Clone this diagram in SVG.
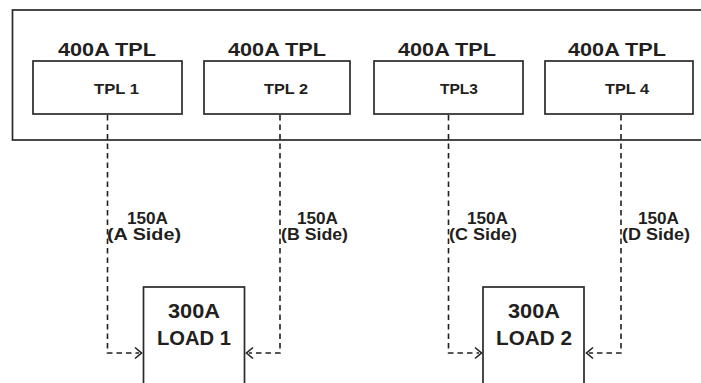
<svg xmlns="http://www.w3.org/2000/svg" width="701" height="383" viewBox="0 0 701 383">
<defs>
<style>
.box{fill:#fff;stroke:#2a2a2a;stroke-width:1.7}
.t{font-family:"Liberation Sans",Arial,sans-serif;font-weight:bold;fill:#231f20}
.dash{fill:none;stroke:#231f20;stroke-width:1.6;stroke-dasharray:5.5 4}
.arr{fill:none;stroke:#231f20;stroke-width:1.6}
</style>
</defs>
<rect width="701" height="383" fill="#fff"/>
<g id="panel">
<rect x="12.5" y="10" width="700" height="130" class="box"/>
</g>
<g id="tpl1">
<text class="t" x="58" y="56" font-size="19" textLength="98" lengthAdjust="spacingAndGlyphs">400A TPL</text>
<rect x="33" y="61" width="149" height="53" class="box"/>
<text class="t" x="94" y="94" font-size="14.5" textLength="45" lengthAdjust="spacingAndGlyphs">TPL 1</text>
</g>
<g id="tpl2">
<text class="t" x="228" y="56" font-size="19" textLength="98" lengthAdjust="spacingAndGlyphs">400A TPL</text>
<rect x="204" y="61" width="146" height="53" class="box"/>
<text class="t" x="264" y="94" font-size="14.5" textLength="44" lengthAdjust="spacingAndGlyphs">TPL 2</text>
</g>
<g id="tpl3">
<text class="t" x="398" y="56" font-size="19" textLength="98" lengthAdjust="spacingAndGlyphs">400A TPL</text>
<rect x="374" y="61" width="149" height="53" class="box"/>
<text class="t" x="440" y="94" font-size="14.5" textLength="38" lengthAdjust="spacingAndGlyphs">TPL3</text>
</g>
<g id="tpl4">
<text class="t" x="568" y="56" font-size="19" textLength="98" lengthAdjust="spacingAndGlyphs">400A TPL</text>
<rect x="545" y="61" width="148" height="53" class="box"/>
<text class="t" x="605" y="94" font-size="14.5" textLength="44" lengthAdjust="spacingAndGlyphs">TPL 4</text>
</g>
<g id="load1">
<rect x="143.5" y="287" width="101" height="110" class="box"/>
<text class="t" x="168" y="318" font-size="21" textLength="52" lengthAdjust="spacingAndGlyphs">300A</text>
<text class="t" x="157" y="345" font-size="21" textLength="74" lengthAdjust="spacingAndGlyphs">LOAD 1</text>
</g>
<g id="load2">
<rect x="483" y="287" width="101" height="110" class="box"/>
<text class="t" x="508" y="318" font-size="21" textLength="52" lengthAdjust="spacingAndGlyphs">300A</text>
<text class="t" x="496" y="345" font-size="21" textLength="76" lengthAdjust="spacingAndGlyphs">LOAD 2</text>
</g>
<g id="connectors">
<polyline class="dash" points="107.5,115 107.5,353 139,353"/>
<polyline class="arr" points="135,347.5 141.5,353 135,358.5"/>
<polyline class="dash" points="280,115 280,353 249,353"/>
<polyline class="arr" points="253,347.5 246.5,353 253,358.5"/>
<polyline class="dash" points="448.5,115 448.5,353 479,353"/>
<polyline class="arr" points="475,347.5 481.5,353 475,358.5"/>
<polyline class="dash" points="621,115 621,353 589,353"/>
<polyline class="arr" points="593,347.5 586.5,353 593,358.5"/>
</g>
<g id="labels">
<text class="t" x="127" y="224" font-size="16" textLength="41" lengthAdjust="spacingAndGlyphs">150A</text>
<text class="t" x="107" y="240" font-size="16" textLength="74" lengthAdjust="spacingAndGlyphs">(A Side)</text>
<text class="t" x="297" y="224" font-size="16" textLength="41" lengthAdjust="spacingAndGlyphs">150A</text>
<text class="t" x="281" y="240" font-size="16" textLength="67" lengthAdjust="spacingAndGlyphs">(B Side)</text>
<text class="t" x="467" y="224" font-size="16" textLength="41" lengthAdjust="spacingAndGlyphs">150A</text>
<text class="t" x="449" y="240" font-size="16" textLength="68" lengthAdjust="spacingAndGlyphs">(C Side)</text>
<text class="t" x="638" y="224" font-size="16" textLength="41" lengthAdjust="spacingAndGlyphs">150A</text>
<text class="t" x="622" y="240" font-size="16" textLength="68" lengthAdjust="spacingAndGlyphs">(D Side)</text>
</g>
</svg>
